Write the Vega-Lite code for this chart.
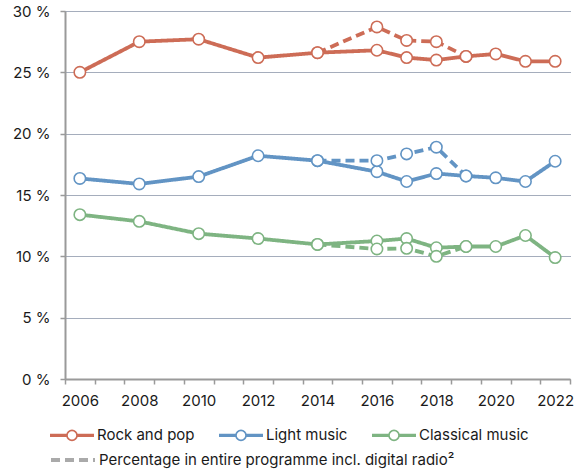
{
  "$schema": "https://vega.github.io/schema/vega-lite/v6.json",
  "width": 505,
  "height": 368,
  "autosize": "none",
  "padding": {"left": 65, "top": 11, "right": 12, "bottom": 94},
  "config": {
    "font": "Inter",
    "view": {"stroke": null},
    "axis": {"labelColor": "#1a1a1a", "labelFontSize": 15, "labelFont": "Inter"},
    "legend": {"labelFont": "Inter", "labelFontSize": 15, "labelColor": "#1a1a1a", "labelLimit": 800}
  },
  "data": {
    "values": [
      {"year": 2006, "value": 25.0, "genre": "Rock and pop", "kind": "Solid"},
      {"year": 2008, "value": 27.5, "genre": "Rock and pop", "kind": "Solid"},
      {"year": 2010, "value": 27.7, "genre": "Rock and pop", "kind": "Solid"},
      {"year": 2012, "value": 26.2, "genre": "Rock and pop", "kind": "Solid"},
      {"year": 2014, "value": 26.6, "genre": "Rock and pop", "kind": "Solid"},
      {"year": 2016, "value": 26.8, "genre": "Rock and pop", "kind": "Solid"},
      {"year": 2017, "value": 26.2, "genre": "Rock and pop", "kind": "Solid"},
      {"year": 2018, "value": 26.0, "genre": "Rock and pop", "kind": "Solid"},
      {"year": 2019, "value": 26.3, "genre": "Rock and pop", "kind": "Solid"},
      {"year": 2020, "value": 26.5, "genre": "Rock and pop", "kind": "Solid"},
      {"year": 2021, "value": 25.9, "genre": "Rock and pop", "kind": "Solid"},
      {"year": 2022, "value": 25.9, "genre": "Rock and pop", "kind": "Solid"},
      {"year": 2006, "value": 16.35, "genre": "Light music", "kind": "Solid"},
      {"year": 2008, "value": 15.9, "genre": "Light music", "kind": "Solid"},
      {"year": 2010, "value": 16.5, "genre": "Light music", "kind": "Solid"},
      {"year": 2012, "value": 18.2, "genre": "Light music", "kind": "Solid"},
      {"year": 2014, "value": 17.8, "genre": "Light music", "kind": "Solid"},
      {"year": 2016, "value": 16.9, "genre": "Light music", "kind": "Solid"},
      {"year": 2017, "value": 16.1, "genre": "Light music", "kind": "Solid"},
      {"year": 2018, "value": 16.75, "genre": "Light music", "kind": "Solid"},
      {"year": 2019, "value": 16.55, "genre": "Light music", "kind": "Solid"},
      {"year": 2020, "value": 16.4, "genre": "Light music", "kind": "Solid"},
      {"year": 2021, "value": 16.1, "genre": "Light music", "kind": "Solid"},
      {"year": 2022, "value": 17.75, "genre": "Light music", "kind": "Solid"},
      {"year": 2006, "value": 13.4, "genre": "Classical music", "kind": "Solid"},
      {"year": 2008, "value": 12.85, "genre": "Classical music", "kind": "Solid"},
      {"year": 2010, "value": 11.85, "genre": "Classical music", "kind": "Solid"},
      {"year": 2012, "value": 11.45, "genre": "Classical music", "kind": "Solid"},
      {"year": 2014, "value": 10.97, "genre": "Classical music", "kind": "Solid"},
      {"year": 2016, "value": 11.25, "genre": "Classical music", "kind": "Solid"},
      {"year": 2017, "value": 11.45, "genre": "Classical music", "kind": "Solid"},
      {"year": 2018, "value": 10.7, "genre": "Classical music", "kind": "Solid"},
      {"year": 2019, "value": 10.8, "genre": "Classical music", "kind": "Solid"},
      {"year": 2020, "value": 10.8, "genre": "Classical music", "kind": "Solid"},
      {"year": 2021, "value": 11.7, "genre": "Classical music", "kind": "Solid"},
      {"year": 2022, "value": 9.9, "genre": "Classical music", "kind": "Solid"},
      {"year": 2014, "value": 26.6, "genre": "Rock and pop", "kind": "Percentage in entire programme incl. digital radio²"},
      {"year": 2016, "value": 28.7, "genre": "Rock and pop", "kind": "Percentage in entire programme incl. digital radio²"},
      {"year": 2017, "value": 27.6, "genre": "Rock and pop", "kind": "Percentage in entire programme incl. digital radio²"},
      {"year": 2018, "value": 27.5, "genre": "Rock and pop", "kind": "Percentage in entire programme incl. digital radio²"},
      {"year": 2019, "value": 26.3, "genre": "Rock and pop", "kind": "Percentage in entire programme incl. digital radio²"},
      {"year": 2014, "value": 17.8, "genre": "Light music", "kind": "Percentage in entire programme incl. digital radio²"},
      {"year": 2016, "value": 17.8, "genre": "Light music", "kind": "Percentage in entire programme incl. digital radio²"},
      {"year": 2017, "value": 18.35, "genre": "Light music", "kind": "Percentage in entire programme incl. digital radio²"},
      {"year": 2018, "value": 18.9, "genre": "Light music", "kind": "Percentage in entire programme incl. digital radio²"},
      {"year": 2019, "value": 16.55, "genre": "Light music", "kind": "Percentage in entire programme incl. digital radio²"},
      {"year": 2014, "value": 10.97, "genre": "Classical music", "kind": "Percentage in entire programme incl. digital radio²"},
      {"year": 2016, "value": 10.6, "genre": "Classical music", "kind": "Percentage in entire programme incl. digital radio²"},
      {"year": 2017, "value": 10.65, "genre": "Classical music", "kind": "Percentage in entire programme incl. digital radio²"},
      {"year": 2018, "value": 10.0, "genre": "Classical music", "kind": "Percentage in entire programme incl. digital radio²"},
      {"year": 2019, "value": 10.8, "genre": "Classical music", "kind": "Percentage in entire programme incl. digital radio²"}
    ]
  },
  "encoding": {
    "y": {
      "field": "value", "type": "quantitative",
      "scale": {"domain": [0, 30], "nice": false, "zero": true},
      "axis": {
        "title": null, "values": [0, 5, 10, 15, 20, 25, 30],
        "labelExpr": "datum.value + ' %'",
        "domainColor": "#9a9a9a", "domainWidth": 2,
        "tickColor": "#9a9a9a", "tickSize": 5, "tickWidth": 1.5,
        "labelPadding": 10,
        "grid": true, "gridColor": "#4a5a78", "gridDash": [1, 1], "gridWidth": 1
      }
    }
  },
  "layer": [
    {
      "mark": {"type": "line", "strokeWidth": 3.8, "strokeJoin": "round"},
      "encoding": {
        "x": {
          "field": "year", "type": "quantitative",
          "scale": {"domain": [2005.5, 2022.5], "nice": false, "zero": false},
          "axis": {
            "orient": "bottom", "title": null,
            "values": [2005.5, 2006.5, 2007.5, 2008.5, 2009.5, 2010.5, 2011.5, 2012.5, 2013.5, 2014.5, 2015.5, 2016.5, 2017.5, 2018.5, 2019.5, 2020.5, 2021.5, 2022.5],
            "labels": false, "grid": false,
            "domainColor": "#9a9a9a", "domainWidth": 2,
            "tickColor": "#9a9a9a", "tickSize": 5, "tickWidth": 1.5
          }
        },
        "color": {
          "field": "genre", "type": "nominal",
          "scale": {"domain": ["Rock and pop", "Light music", "Classical music"], "range": ["#cd6c56", "#6294c4", "#7eb482"]},
          "legend": {
            "title": null, "orient": "none", "legendX": -16, "legendY": 401,
            "direction": "horizontal", "columns": 3, "columnPadding": 20,
            "symbolType": "M-1,-0.04H-0.227M-1,0H-0.227M-1,0.04H-0.227M0.227,-0.04H1M0.227,0H1M0.227,0.04H1M0.227,0A0.227,0.227,0,1,1,-0.227,0A0.227,0.227,0,1,1,0.227,0Z",
            "symbolSize": 1936, "symbolStrokeWidth": 1.6, "symbolFillColor": "white", "symbolOpacity": 1,
            "labelOffset": 2, "padding": 0
          }
        },
        "strokeDash": {
          "field": "kind", "type": "nominal",
          "scale": {"domain": ["Solid", "Percentage in entire programme incl. digital radio²"], "range": [[1, 0], [9, 5]]},
          "legend": {
            "title": null, "orient": "none", "legendX": -16, "legendY": 425,
            "values": ["Percentage in entire programme incl. digital radio²"],
            "symbolType": "M-1,0H1", "symbolSize": 1936, "symbolStrokeWidth": 4,
            "symbolStrokeColor": "#aaaaaa",
            "labelOffset": 2, "padding": 0, "labelLimit": 800
          }
        },
        "detail": {"field": "kind"}
      }
    },
    {
      "mark": {"type": "point", "shape": "circle", "filled": false, "fill": "white", "fillOpacity": 1, "opacity": 1, "size": 130, "strokeWidth": 1.6},
      "encoding": {
        "x": {
          "field": "year", "type": "quantitative",
          "scale": {"domain": [2005.5, 2022.5], "nice": false, "zero": false},
          "axis": {
            "orient": "bottom", "title": null,
            "values": [2006, 2008, 2010, 2012, 2014, 2016, 2018, 2020, 2022],
            "format": "d", "ticks": false, "domain": false, "grid": false,
            "labelPadding": 14
          }
        },
        "stroke": {
          "field": "genre", "type": "nominal",
          "scale": {"domain": ["Rock and pop", "Light music", "Classical music"], "range": ["#cd6c56", "#6294c4", "#7eb482"]},
          "legend": null
        }
      }
    }
  ],
  "resolve": {"axis": {"x": "independent"}}
}
